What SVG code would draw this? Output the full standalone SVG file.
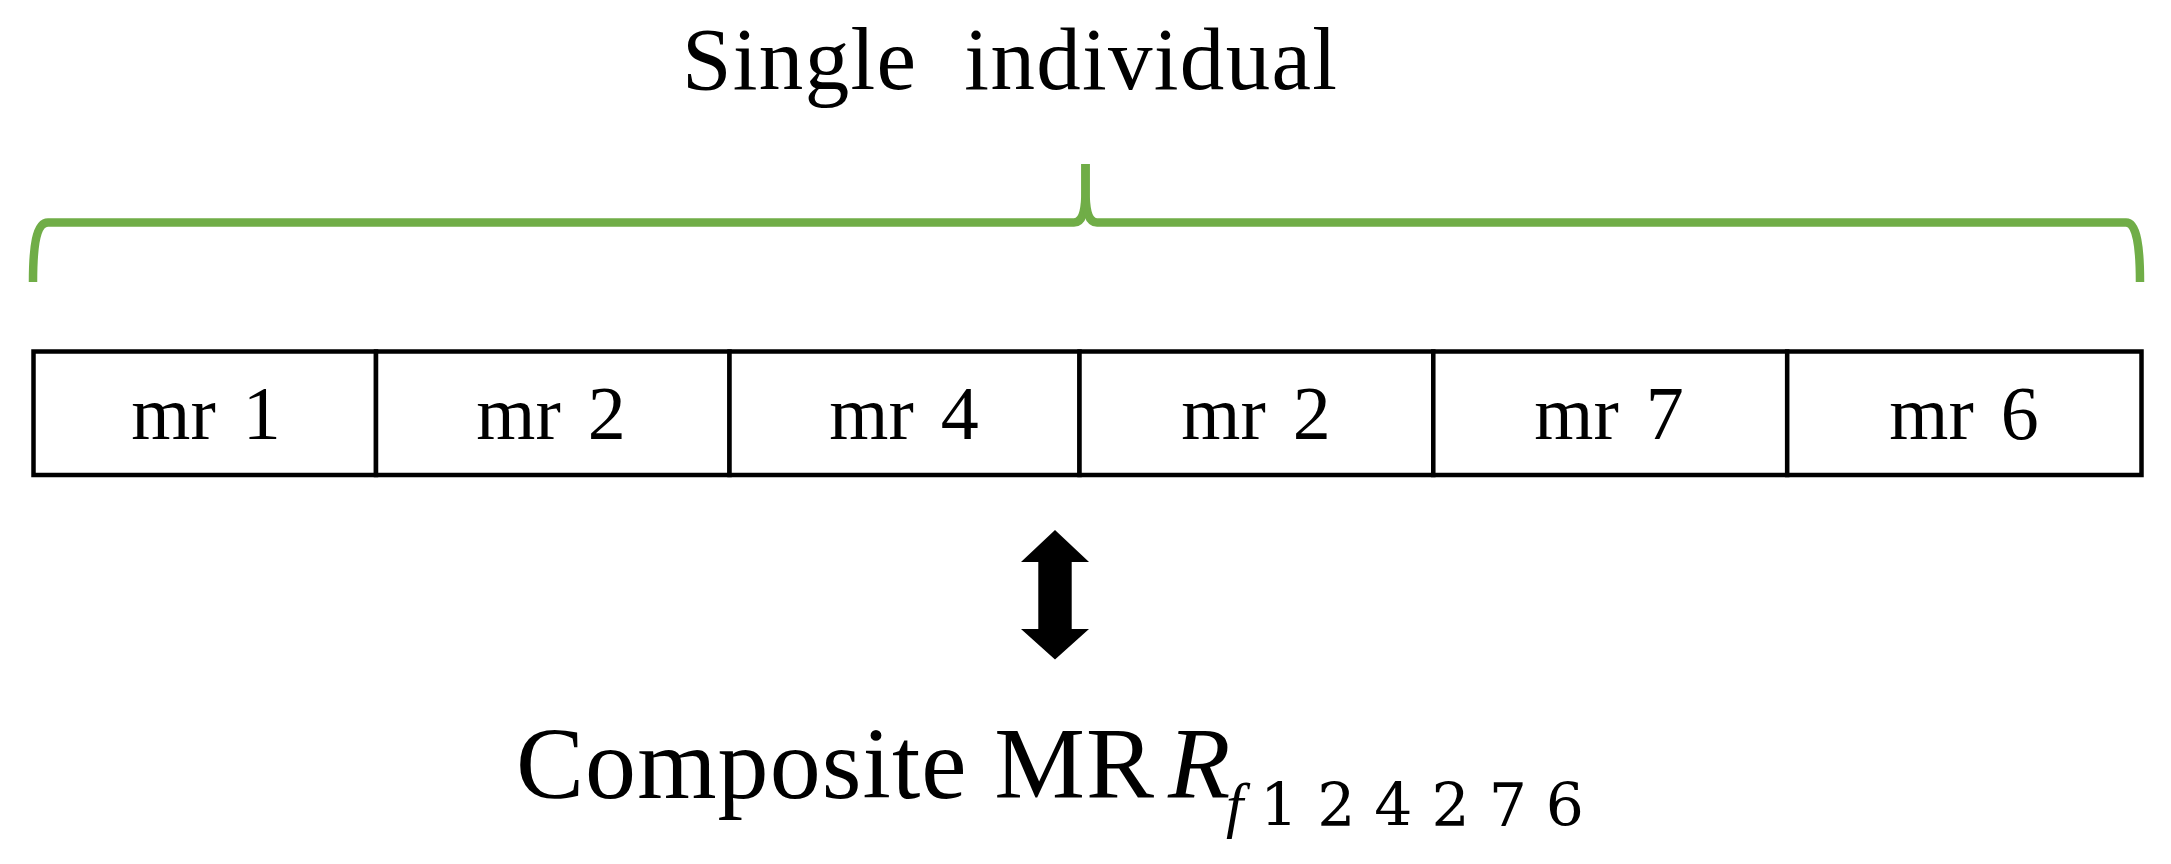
<svg xmlns="http://www.w3.org/2000/svg" width="2171" height="864" viewBox="0 0 2171 864">
<style>
.cell rect{fill:#fff;stroke:#000;stroke-width:4.5}
.cell text{font-family:"Liberation Serif","Times New Roman",serif;font-size:76px;text-anchor:middle;word-spacing:8px;fill:#000}
.brace{fill:none;stroke:#70AD47;stroke-width:8.5;stroke-linecap:butt}
.serif{font-family:"Liberation Serif","Times New Roman",serif;fill:#000}
</style>
<rect width="2171" height="864" fill="#fff"/>
<g id="title">
<text class="serif" x="682" y="89" font-size="89" textLength="655" lengthAdjust="spacing" xml:space="preserve">Single  individual</text>
</g>
<g id="brace">
<path class="brace" d="M33,282 C33,248 36,222.5 48,222.5 L1074,222.5 C1082,222.5 1085.5,212 1085.5,190 L1085.5,164"/>
<path class="brace" d="M1085.5,164 L1085.5,190 C1085.5,212 1089,222.5 1097,222.5 L2126,222.5 C2137,222.5 2140,248 2140,282"/>
</g>
<g id="cell1" class="cell"><rect x="33.5" y="351.5" width="342.5" height="123.5"/><text x="206" y="439">mr 1</text></g>
<g id="cell2" class="cell"><rect x="376" y="351.5" width="353.5" height="123.5"/><text x="551" y="439">mr 2</text></g>
<g id="cell3" class="cell"><rect x="729.5" y="351.5" width="350" height="123.5"/><text x="904" y="439">mr 4</text></g>
<g id="cell4" class="cell"><rect x="1079.5" y="351.5" width="353.8" height="123.5"/><text x="1256" y="439">mr 2</text></g>
<g id="cell5" class="cell"><rect x="1433.3" y="351.5" width="353.9" height="123.5"/><text x="1609" y="439">mr 7</text></g>
<g id="cell6" class="cell"><rect x="1787.2" y="351.5" width="354.3" height="123.5"/><text x="1964" y="439">mr 6</text></g>
<g id="connectors">
<polygon fill="#000" points="1055,530 1089,562 1071.7,562 1071.7,629 1089,629 1055,659.5 1021,629 1038.3,629 1038.3,562 1021,562"/>
</g>
<g id="composite">
<text class="serif" x="516" y="798" font-size="102" textLength="638" lengthAdjust="spacing">Composite MR</text>
<text class="serif" font-size="102"><tspan x="1168" y="798" font-style="italic">R</tspan><tspan x="1226" y="826" font-size="62" font-style="italic">f</tspan><tspan x="1260" y="826" font-size="60" font-family="'DejaVu Serif',serif" letter-spacing="19">124276</tspan></text>
</g>
</svg>
